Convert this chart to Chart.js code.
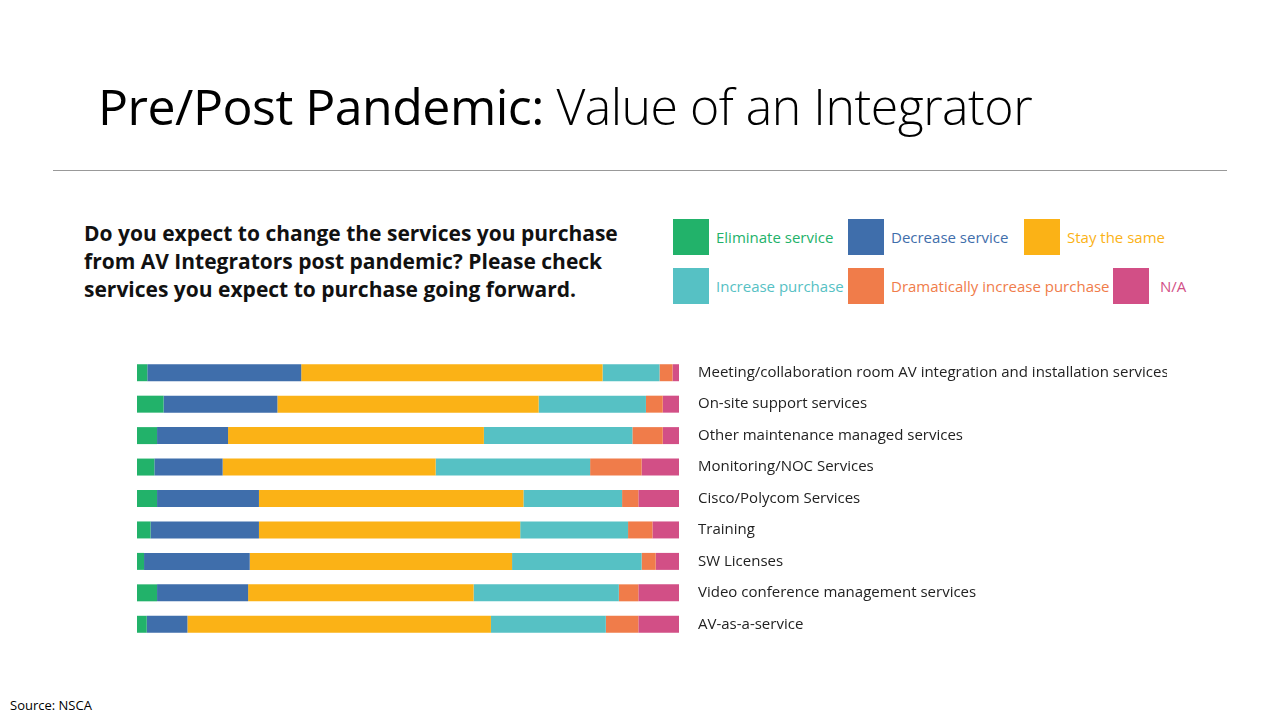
<!DOCTYPE html>
<html>
<head>
<meta charset="utf-8">
<script src="https://cdn.jsdelivr.net/npm/chart.js@4"></script>
<style>
  body { margin:0; width:1280px; height:720px; background:#fff; position:relative; overflow:hidden; font-family:'Open Sans', sans-serif; }
  .title { position:absolute; left:98px; top:72px; font-size:50px; color:#000; white-space:nowrap; letter-spacing:-0.5px; }
  .rule { position:absolute; left:53px; top:170px; width:1174px; height:1px; background:#999; }
  .question { position:absolute; left:84px; top:219px; font-size:21px; font-weight:700; line-height:28px; color:#111; }
  .leg { position:absolute; display:flex; align-items:center; font-size:15px; white-space:nowrap; }
  .leg span.box { width:36px; height:36px; margin-right:7px; display:inline-block; }
  .src { position:absolute; left:10px; top:696px; font-size:13px; color:#000; }
  #wrap { position:absolute; left:137px; top:337px; width:1030px; height:323px; }
</style>
</head>
<body>
<div class="title"><span>Pre/Post Pandemic:</span> <span style="font-weight:300">Value of an Integrator</span></div>
<div class="rule"></div>
<div class="question">Do you expect to change the services you purchase<br>from AV Integrators post pandemic? Please check<br>services you expect to purchase going forward.</div>
<div id="legend"></div>
<div id="wrap"><canvas id="c"></canvas></div>
<div class="src">Source: NSCA</div>
<script>
'use strict';

const categories = [
  'Meeting/collaboration room AV integration and installation services',
  'On-site support services',
  'Other maintenance managed services',
  'Monitoring/NOC Services',
  'Cisco/Polycom Services',
  'Training',
  'SW Licenses',
  'Video conference management services',
  'AV-as-a-service'
];
const seriesNames = ['Eliminate service', 'Decrease service', 'Stay the same', 'Increase purchase', 'Dramatically increase purchase', 'N/A'];
const seriesColors = ['#22b26a', '#3f6eab', '#fbb216', '#56c1c4', '#f07c4a', '#d24f86'];

const eliminate = [1.9, 4.9, 3.7, 3.2, 3.7, 2.5, 1.3, 3.7, 1.8];
const decrease  = [28.4, 21.0, 13.1, 12.6, 18.8, 20.0, 19.5, 16.8, 7.5];
const same      = [55.6, 48.2, 47.2, 39.3, 48.8, 48.2, 48.4, 41.6, 56.0];
const increase  = [10.5, 19.8, 27.4, 28.5, 18.2, 19.9, 23.9, 26.8, 21.2];
const dramatic  = [2.4, 3.1, 5.6, 9.5, 3.0, 4.5, 2.6, 3.6, 6.0];
const na        = [1.2, 3.0, 3.0, 6.9, 7.5, 4.9, 4.3, 7.5, 7.5];

// legend, laid out like the slide
const legendPos = [[673, 219], [848, 219], [1024, 219], [673, 268], [848, 268], [1113, 268]];
const legendEl = document.getElementById('legend');
seriesNames.forEach((n, i) => {
  const d = document.createElement('div');
  d.className = 'leg';
  d.style.left = legendPos[i][0] + 'px';
  d.style.top = legendPos[i][1] + 'px';
  d.style.color = seriesColors[i];
  d.innerHTML = `<span class="box" style="background:${seriesColors[i]}"></span>${i === 5 ? '&nbsp;' : ''}${n}`;
  legendEl.appendChild(d);
});

const values = [eliminate, decrease, same, increase, dramatic, na];

new Chart(document.getElementById('c'), {
  type: 'bar',
  data: {
    labels: categories,
    datasets: values.map((v, i) => ({
      label: seriesNames[i],
      data: v,
      backgroundColor: seriesColors[i],
      borderWidth: 0,
      barPercentage: 0.54,
      categoryPercentage: 1,
    })),
  },
  options: {
    indexAxis: 'y',
    responsive: true,
    maintainAspectRatio: false,
    animation: false,
    layout: { padding: 0 },
    plugins: { legend: { display: false }, tooltip: { enabled: false } },
    scales: {
      x: { stacked: true, min: 0, max: 100, display: false },
      y: {
        stacked: true,
        position: 'right',
        grid: { display: false },
        border: { display: false },
        afterFit: (s) => { s.width = 488; },
        ticks: { color: '#222', padding: 11, font: { size: 15, family: 'Open Sans' } },
      },
    },
  },
});
</script>
</body>
</html>
